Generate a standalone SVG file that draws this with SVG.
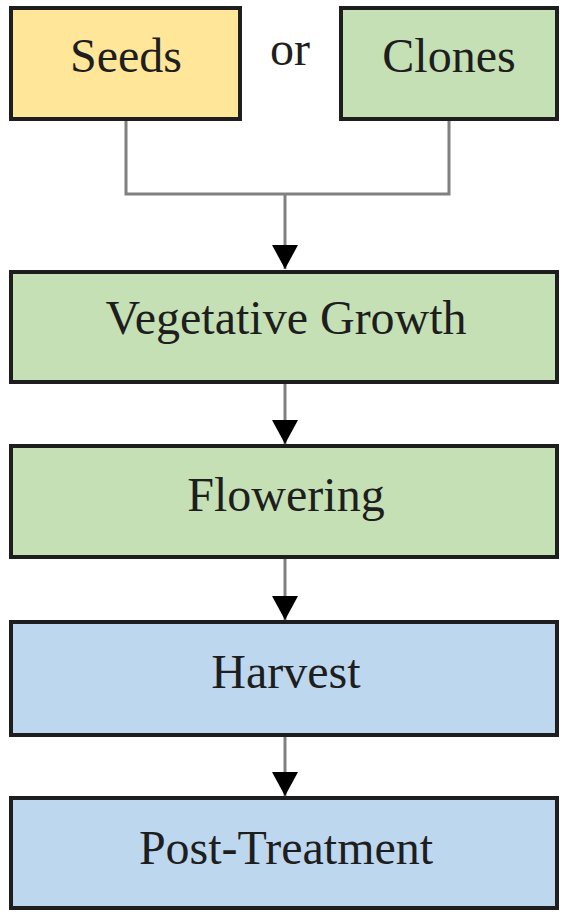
<svg xmlns="http://www.w3.org/2000/svg" width="563" height="915" viewBox="0 0 563 915">
<style>
.box{stroke:#1e1e1e;stroke-width:4}
.y{fill:#FFE699}.g{fill:#C5E0B4}.b{fill:#BDD7EE}
text{font-family:"Liberation Serif","Times New Roman",serif;font-size:48px;fill:#1e1e1e;text-anchor:middle}
.c{fill:none;stroke:#808080;stroke-width:3}
</style>
<defs>
<marker id="ah" markerUnits="userSpaceOnUse" markerWidth="26" markerHeight="28" refX="25" refY="14" orient="auto" viewBox="0 0 26 28">
<path d="M1,1 L25,14 L1,27 Z" fill="#000"/>
</marker>
</defs>
<rect width="563" height="915" fill="#fff"/>
<g id="connectors">
<polyline class="c" points="126,120 126,194 449,194 449,120"/>
<line class="c" x1="285" y1="194" x2="285" y2="269" marker-end="url(#ah)"/>
<line class="c" x1="285" y1="383" x2="285" y2="444" marker-end="url(#ah)"/>
<line class="c" x1="285" y1="558" x2="285" y2="620" marker-end="url(#ah)"/>
<line class="c" x1="285" y1="736" x2="285" y2="796" marker-end="url(#ah)"/>
</g>
<g id="seeds"><rect class="box y" x="11" y="8" width="229" height="111"/><text x="126" y="72">Seeds</text></g>
<g id="or"><text x="290" y="65">or</text></g>
<g id="clones"><rect class="box g" x="341" y="8" width="216" height="111"/><text x="449" y="72">Clones</text></g>
<g id="vegetative"><rect class="box g" x="11" y="272" width="546" height="110"/><text x="286" y="334">Vegetative Growth</text></g>
<g id="flowering"><rect class="box g" x="11" y="446" width="546" height="111"/><text x="286" y="511">Flowering</text></g>
<g id="harvest"><rect class="box b" x="11" y="622" width="546" height="113"/><text x="286" y="688">Harvest</text></g>
<g id="posttreatment"><rect class="box b" x="11" y="798" width="546" height="110"/><text x="286" y="864">Post-Treatment</text></g>
</svg>
